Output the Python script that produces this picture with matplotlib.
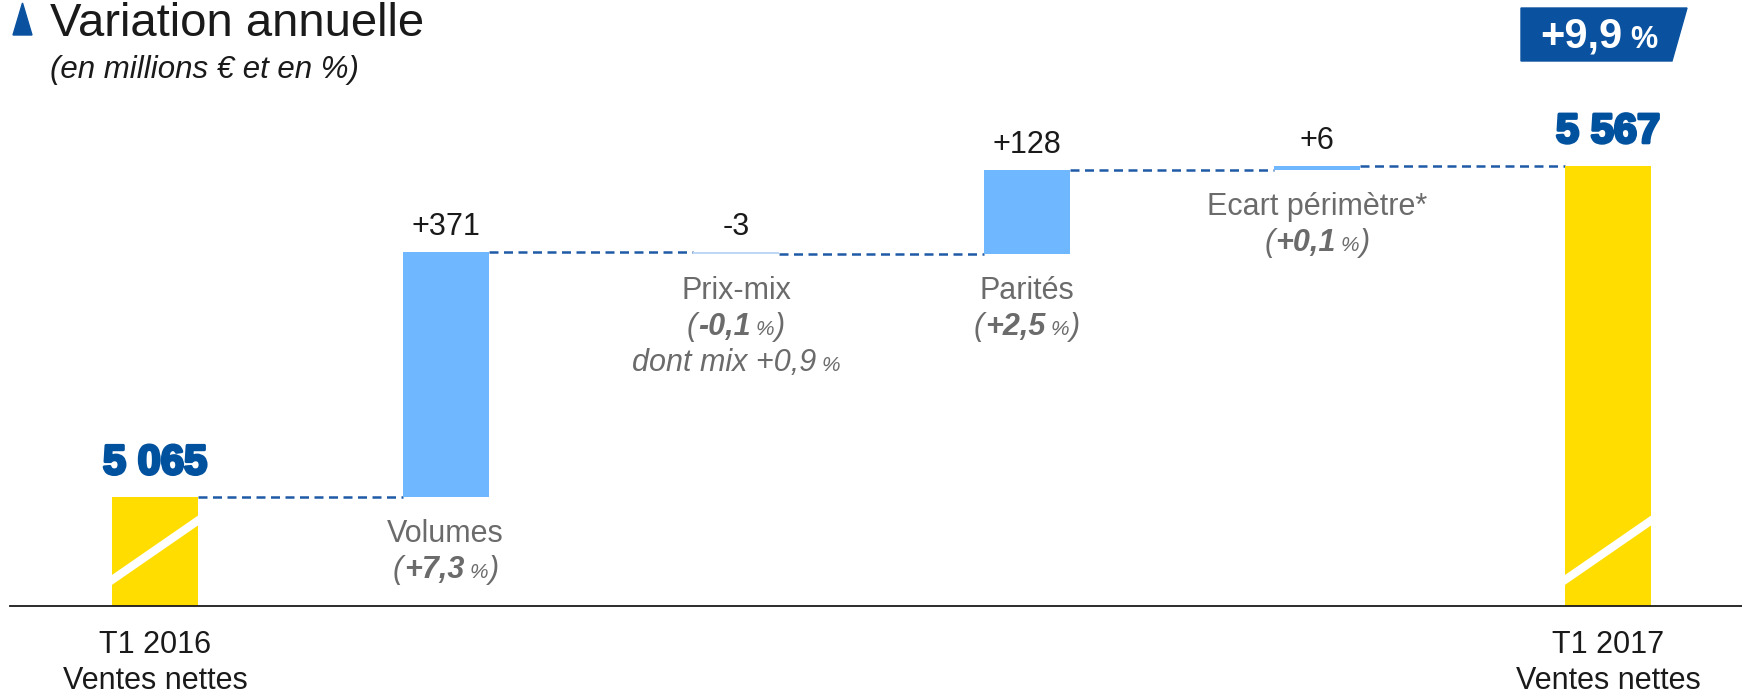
import matplotlib
matplotlib.use('Agg')
import matplotlib.pyplot as plt
import matplotlib.patheffects as pe
from matplotlib.patches import Polygon
import numpy as np

plt.rcParams['font.family'] = ['Liberation Sans', 'DejaVu Sans']

# Données (millions €)
ventes_debut = 5065
ventes_fin = 5567
label_debut = ['T1 2016', 'Ventes nettes']
label_fin = ['T1 2017', 'Ventes nettes']
variation_totale = '+9,9'
facteurs = ['Volumes', 'Prix-mix', 'Parités', 'Ecart périmètre*']
ecarts = [371, -3, 128, 6]
ecarts_pct = ['+7,3', '-0,1', '+2,5', '+0,1']
notes = ['', 'dont mix +0,9', '', '']

# Couleurs
JAUNE = '#FFDD00'
BLEU_CLAIR = '#6FB8FF'
BLEU_PALE = '#BCD8F5'
BLEU_FONCE = '#00519E'
GRIS = '#6B6B6B'
NOIR = '#1A1A1A'

W, H, DPI = 1742, 694, 100
fig = plt.figure(figsize=(W / DPI, H / DPI), dpi=DPI)
ax = fig.add_axes([0, 0, 1, 1])
ax.set_axis_off()

# échelle : axe coupé (plancher), 0.66 px par million
px_unite = 0.66
plancher = 4900
pas = 290.6
ax.set_ylim(plancher - 88 / px_unite, plancher + 606 / px_unite)
ax.set_xlim(-155 / pas, (W - 155) / pas)
largeur = 0.296

n = len(ecarts)
x = np.arange(n + 2)
cumul = ventes_debut + np.cumsum([0] + ecarts)
bas = np.minimum(cumul[:-1], cumul[1:])
haut = np.maximum(cumul[:-1], cumul[1:])
couleurs = [BLEU_CLAIR if e > 0 else BLEU_PALE for e in ecarts]

# Barres
ax.bar(x[0], ventes_debut - plancher, bottom=plancher, width=largeur, color=JAUNE, zorder=2)
ax.bar(x[-1], ventes_fin - plancher, bottom=plancher, width=largeur, color=JAUNE, zorder=2)
ax.bar(x[1:-1], np.abs(ecarts), bottom=bas, width=largeur, color=couleurs, zorder=2)

# Marques de coupure sur les totaux
for xi in (x[0], x[-1]):
    ax.fill([xi - largeur / 2, xi + largeur / 2, xi + largeur / 2, xi - largeur / 2],
            [plancher + 32, plancher + 122, plancher + 137, plancher + 47],
            color='white', lw=0, zorder=3)

# Lignes de liaison
for i in range(n + 1):
    ligne, = ax.plot([x[i] + largeur / 2, x[i + 1] - largeur / 2], [cumul[i], cumul[i]],
                     color='#1F5AA6', lw=1.8, zorder=1)
    ligne.set_dashes((3.6, 2.2))

# Ligne de base
ax.axhline(plancher, xmin=10 / W, xmax=1, color=NOIR, lw=1.3, zorder=4)

renderer = fig.canvas.get_renderer()


def texte_riche(xd, yd, dy_px, morceaux):
    # morceaux : (texte, propriétés, espace après en px)
    arts = []
    for s, kw, _ in morceaux:
        t = ax.annotate(s, (xd, yd), xytext=(0, 0), textcoords='offset points',
                        ha='left', va='baseline', **kw)
        arts.append(t)
    larg = [t.get_window_extent(renderer).width for t in arts]
    total = sum(larg) + sum(m[2] for m in morceaux[:-1])
    pos = -total / 2
    for t, w, m in zip(arts, larg, morceaux):
        t.set_position((pos * 72 / DPI, -dy_px * 72 / DPI))
        pos += w + m[2]


def fmt_milliers(v):
    return f'{v:,}'.replace(',', ' ')


it = dict(fontsize=22, style='italic', color=GRIS)
it_gras = dict(fontsize=22, style='italic', weight='bold', color=GRIS)
it_petit = dict(fontsize=15, style='italic', color=GRIS)
reg = dict(fontsize=22, color=GRIS)

for i in range(n):
    xi = x[i + 1]
    # valeur au-dessus
    ax.annotate(f'{ecarts[i]:+d}', (xi, haut[i]), xytext=(0, 25 * 72 / DPI),
                textcoords='offset points', ha='center', va='center',
                fontsize=22, color=NOIR)
    # libellés sous la barre
    texte_riche(xi, bas[i], 34 + 11, [(facteurs[i], reg, 0)])
    texte_riche(xi, bas[i], 70 + 11, [('(', it, 1), (ecarts_pct[i], it_gras, 5),
                                       ('%', it_petit, 1), (')', it, 0)])
    if notes[i]:
        texte_riche(xi, bas[i], 106 + 11, [(notes[i], it, 5), ('%', it_petit, 0)])

# Totaux
effet = [pe.withStroke(linewidth=2.2, foreground=BLEU_FONCE)]
for xi, v in ((x[0], ventes_debut), (x[-1], ventes_fin)):
    ax.annotate(fmt_milliers(v), (xi, v), xytext=(0, 34 * 72 / DPI),
                textcoords='offset points', ha='center', va='center',
                fontsize=30, weight='bold', color=BLEU_FONCE, path_effects=effet)

for xi, lignes in ((x[0], label_debut), (x[-1], label_fin)):
    for k, s in enumerate(lignes):
        ax.annotate(s, (xi, plancher), xytext=(0, -(39 + 36 * k) * 72 / DPI),
                    textcoords='offset points', ha='center', va='center',
                    fontsize=22, color=NOIR)


def px(xp, yp):
    return (xp / W, 1 - yp / H)


# Titre
fig.patches.append(Polygon([px(13, 35), px(22.5, 3), px(32, 35)], closed=True,
                           transform=fig.transFigure, color='#0A52A0'))
fig.text(*px(50, 36), 'Variation annuelle', fontsize=34, color=NOIR, va='baseline')
fig.text(*px(50, 78), '(en millions € et en %)', fontsize=22.5, style='italic',
         color=NOIR, va='baseline')

# Badge variation totale
fig.patches.append(Polygon([px(1521, 8), px(1687, 8), px(1672, 61), px(1521, 61)],
                           closed=True, transform=fig.transFigure, color='#0A52A0'))
xb, yb = px(1599, 48)
t1 = fig.text(xb, yb, variation_totale, fontsize=30, weight='bold', color='white',
              va='baseline', ha='left')
t2 = fig.text(xb, yb, '%', fontsize=22, weight='bold', color='white',
              va='baseline', ha='left')
w1 = t1.get_window_extent(renderer).width
w2 = t2.get_window_extent(renderer).width
tot = w1 + 8 + w2
t1.set_x((1599 - tot / 2) / W)
t2.set_x((1599 - tot / 2 + w1 + 8) / W)

fig.savefig('out.png', dpi=DPI)
